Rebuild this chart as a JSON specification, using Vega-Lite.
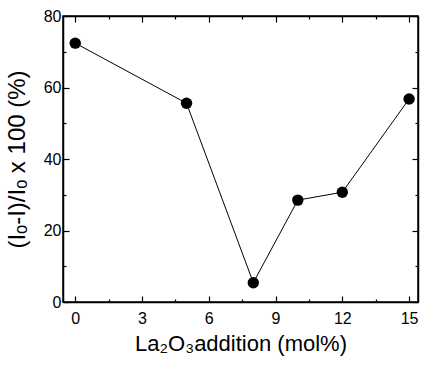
{
  "$schema": "https://vega.github.io/schema/vega-lite/v6.json",
  "width": 355,
  "height": 286,
  "autosize": {"type": "none"},
  "padding": {"left": 63, "top": 16, "right": 3, "bottom": 64},
  "background": "white",
  "config": {
    "view": {"stroke": "black", "strokeWidth": 1.5},
    "font": "Liberation Sans",
    "axis": {
      "grid": false,
      "domainColor": "black",
      "domainWidth": 1.5,
      "tickColor": "black",
      "tickWidth": 1.2,
      "labelColor": "black",
      "titleColor": "black",
      "labelFont": "Liberation Sans",
      "titleFont": "Liberation Sans",
      "labelFontSize": 16,
      "titleFontSize": 22,
      "titleFontWeight": "normal"
    }
  },
  "data": {
    "values": [
      {"x": 0, "y": 72.4},
      {"x": 5, "y": 55.6},
      {"x": 8, "y": 5.4},
      {"x": 10, "y": 28.5},
      {"x": 12, "y": 30.7},
      {"x": 15, "y": 56.8}
    ]
  },
  "resolve": {"axis": {"x": "independent", "y": "independent"}},
  "layer": [
    {
      "mark": {"type": "line", "color": "black", "strokeWidth": 1},
      "encoding": {
        "x": {
          "field": "x", "type": "quantitative",
          "scale": {"domain": [-0.55, 15.4], "nice": false, "zero": false},
          "axis": {
            "orient": "bottom",
            "title": "La₂O₃addition (mol%)",
            "titleFontSize": 22,
            "titlePadding": 7,
            "values": [0, 1.5, 3, 4.5, 6, 7.5, 9, 10.5, 12, 13.5, 15],
            "labelExpr": "datum.value % 3 === 0 ? datum.label : ''",
            "tickSize": {"condition": {"test": "datum.value % 3 === 0", "value": -6}, "value": -3},
            "labelPadding": 14,
            "labelFlush": false
          }
        },
        "y": {
          "field": "y", "type": "quantitative",
          "scale": {"domain": [0, 80], "nice": false},
          "axis": {
            "orient": "left",
            "title": "(Iₒ-I)/Iₒ x 100 (%)",
            "titleFontSize": 24,
            "titlePadding": 14,
            "values": [0, 10, 20, 30, 40, 50, 60, 70, 80],
            "labelExpr": "datum.value % 20 === 0 ? datum.label : ''",
            "tickSize": {"condition": {"test": "datum.value % 20 === 0", "value": -6}, "value": -3},
            "labelPadding": 8,
            "labelFlush": false
          }
        }
      }
    },
    {
      "mark": {"type": "point", "filled": true, "color": "black", "opacity": 1, "size": 130},
      "encoding": {
        "x": {
          "field": "x", "type": "quantitative",
          "scale": {"domain": [-0.55, 15.4], "nice": false, "zero": false},
          "axis": {
            "orient": "top",
            "title": null,
            "labels": false,
            "values": [0, 1.5, 3, 4.5, 6, 7.5, 9, 10.5, 12, 13.5, 15],
            "tickSize": {"condition": {"test": "datum.value % 3 === 0", "value": -6}, "value": -3}
          }
        },
        "y": {
          "field": "y", "type": "quantitative",
          "scale": {"domain": [0, 80], "nice": false},
          "axis": {
            "orient": "right",
            "title": null,
            "labels": false,
            "values": [0, 10, 20, 30, 40, 50, 60, 70, 80],
            "tickSize": {"condition": {"test": "datum.value % 20 === 0", "value": -6}, "value": -3}
          }
        }
      }
    }
  ]
}
